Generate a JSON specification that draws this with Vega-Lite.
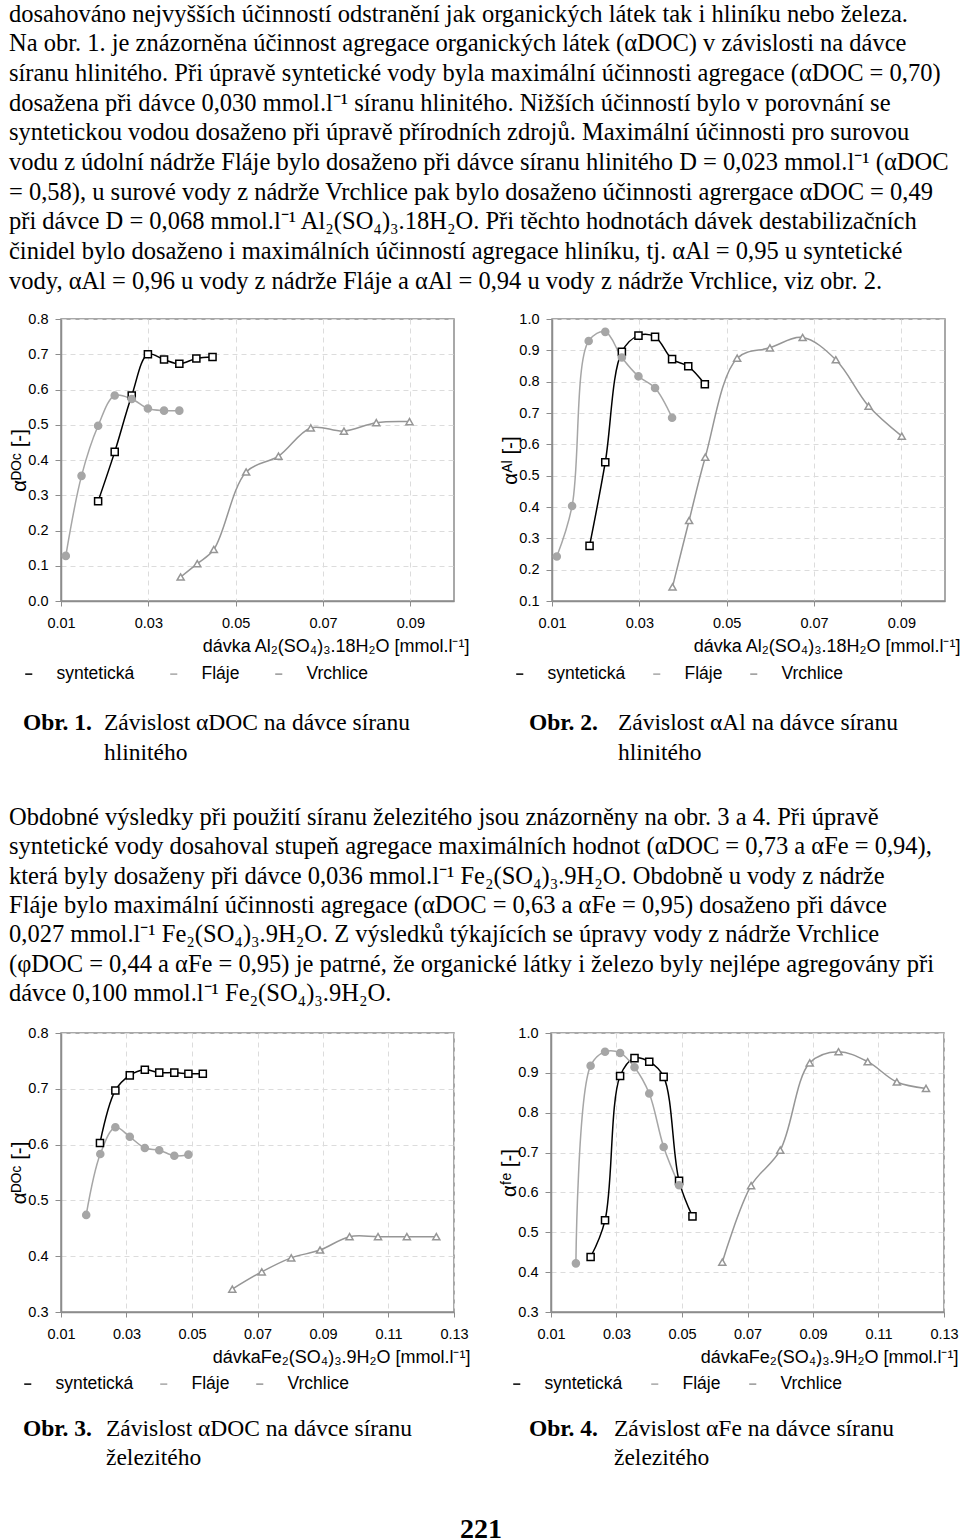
{
  "$schema": "https://vega.github.io/schema/vega-lite/v6.json",
  "padding": {"left": 8, "top": 0, "right": 0, "bottom": 0},
  "autosize": {"type": "pad"},
  "spacing": 0,
  "bounds": "full",
  "resolve": {"scale": {"stroke": "independent"}, "legend": {"stroke": "independent"}},
  "config": {
    "view": {"stroke": null},
    "font": "Liberation Sans",
    "axis": {"labelFont": "Liberation Sans", "labelFontSize": 14.5, "labelColor": "#000000", "titleFont": "Liberation Sans", "titleFontSize": 18, "titleFontWeight": "normal", "titleColor": "#000000", "domainColor": "#8c8c8c", "domainWidth": 1.5, "tickColor": "#8c8c8c", "tickWidth": 1, "gridColor": "#dcdcdc", "gridDash": [5, 4], "gridWidth": 1, "labelFlush": false, "labelOverlap": false},
    "axisX": {"tickSize": 5, "labelPadding": 10, "titlePadding": 8},
    "axisY": {"tickSize": 6, "labelPadding": 7, "minExtent": 28, "maxExtent": 28, "titlePadding": 4, "titleFontSize": 20.5},
    "legend": {"orient": "none", "direction": "horizontal", "title": null, "labelFont": "Liberation Sans", "labelFontSize": 17.5, "labelColor": "#000000", "labelOffset": 19, "symbolSize": 50, "symbolStrokeWidth": 1.5, "padding": 0}
  },
  "datasets": {
    "pts": [
      {"c": 1, "s": "syntetická", "x": 0.0185, "y": 0.283},
      {"c": 1, "s": "syntetická", "x": 0.0223, "y": 0.423},
      {"c": 1, "s": "syntetická", "x": 0.0262, "y": 0.583},
      {"c": 1, "s": "syntetická", "x": 0.0299, "y": 0.700},
      {"c": 1, "s": "syntetická", "x": 0.0336, "y": 0.685},
      {"c": 1, "s": "syntetická", "x": 0.0371, "y": 0.673},
      {"c": 1, "s": "syntetická", "x": 0.0410, "y": 0.688},
      {"c": 1, "s": "syntetická", "x": 0.0447, "y": 0.692},
      {"c": 1, "s": "Fláje", "x": 0.0111, "y": 0.128},
      {"c": 1, "s": "Fláje", "x": 0.0147, "y": 0.355},
      {"c": 1, "s": "Fláje", "x": 0.0185, "y": 0.497},
      {"c": 1, "s": "Fláje", "x": 0.0223, "y": 0.583},
      {"c": 1, "s": "Fláje", "x": 0.0262, "y": 0.573},
      {"c": 1, "s": "Fláje", "x": 0.0299, "y": 0.546},
      {"c": 1, "s": "Fláje", "x": 0.0336, "y": 0.540},
      {"c": 1, "s": "Fláje", "x": 0.0371, "y": 0.540},
      {"c": 1, "s": "Vrchlice", "x": 0.0374, "y": 0.068},
      {"c": 1, "s": "Vrchlice", "x": 0.0412, "y": 0.106},
      {"c": 1, "s": "Vrchlice", "x": 0.0450, "y": 0.146},
      {"c": 1, "s": "Vrchlice", "x": 0.0524, "y": 0.366},
      {"c": 1, "s": "Vrchlice", "x": 0.0598, "y": 0.411},
      {"c": 1, "s": "Vrchlice", "x": 0.0672, "y": 0.491},
      {"c": 1, "s": "Vrchlice", "x": 0.0748, "y": 0.482},
      {"c": 1, "s": "Vrchlice", "x": 0.0822, "y": 0.506},
      {"c": 1, "s": "Vrchlice", "x": 0.0898, "y": 0.509},
      {"c": 2, "s": "syntetická", "x": 0.0186, "y": 0.276},
      {"c": 2, "s": "syntetická", "x": 0.0222, "y": 0.543},
      {"c": 2, "s": "syntetická", "x": 0.0260, "y": 0.895},
      {"c": 2, "s": "syntetická", "x": 0.0298, "y": 0.947},
      {"c": 2, "s": "syntetická", "x": 0.0336, "y": 0.943},
      {"c": 2, "s": "syntetická", "x": 0.0375, "y": 0.872},
      {"c": 2, "s": "syntetická", "x": 0.0412, "y": 0.849},
      {"c": 2, "s": "syntetická", "x": 0.0450, "y": 0.792},
      {"c": 2, "s": "Fláje", "x": 0.0111, "y": 0.242},
      {"c": 2, "s": "Fláje", "x": 0.0146, "y": 0.403},
      {"c": 2, "s": "Fláje", "x": 0.0184, "y": 0.930},
      {"c": 2, "s": "Fláje", "x": 0.0222, "y": 0.959},
      {"c": 2, "s": "Fláje", "x": 0.0260, "y": 0.877},
      {"c": 2, "s": "Fláje", "x": 0.0298, "y": 0.817},
      {"c": 2, "s": "Fláje", "x": 0.0336, "y": 0.780},
      {"c": 2, "s": "Fláje", "x": 0.0375, "y": 0.685},
      {"c": 2, "s": "Vrchlice", "x": 0.0376, "y": 0.145},
      {"c": 2, "s": "Vrchlice", "x": 0.0414, "y": 0.357},
      {"c": 2, "s": "Vrchlice", "x": 0.0451, "y": 0.559},
      {"c": 2, "s": "Vrchlice", "x": 0.0524, "y": 0.875},
      {"c": 2, "s": "Vrchlice", "x": 0.0599, "y": 0.908},
      {"c": 2, "s": "Vrchlice", "x": 0.0674, "y": 0.941},
      {"c": 2, "s": "Vrchlice", "x": 0.0750, "y": 0.870},
      {"c": 2, "s": "Vrchlice", "x": 0.0825, "y": 0.722},
      {"c": 2, "s": "Vrchlice", "x": 0.0901, "y": 0.626},
      {"c": 3, "s": "syntetická", "x": 0.0219, "y": 0.603},
      {"c": 3, "s": "syntetická", "x": 0.0266, "y": 0.697},
      {"c": 3, "s": "syntetická", "x": 0.0310, "y": 0.724},
      {"c": 3, "s": "syntetická", "x": 0.0356, "y": 0.734},
      {"c": 3, "s": "syntetická", "x": 0.0400, "y": 0.729},
      {"c": 3, "s": "syntetická", "x": 0.0446, "y": 0.729},
      {"c": 3, "s": "syntetická", "x": 0.0489, "y": 0.727},
      {"c": 3, "s": "syntetická", "x": 0.0533, "y": 0.727},
      {"c": 3, "s": "Fláje", "x": 0.0177, "y": 0.474},
      {"c": 3, "s": "Fláje", "x": 0.0220, "y": 0.583},
      {"c": 3, "s": "Fláje", "x": 0.0266, "y": 0.631},
      {"c": 3, "s": "Fláje", "x": 0.0310, "y": 0.614},
      {"c": 3, "s": "Fláje", "x": 0.0356, "y": 0.594},
      {"c": 3, "s": "Fláje", "x": 0.0400, "y": 0.590},
      {"c": 3, "s": "Fláje", "x": 0.0446, "y": 0.580},
      {"c": 3, "s": "Fláje", "x": 0.0489, "y": 0.582},
      {"c": 3, "s": "Vrchlice", "x": 0.0623, "y": 0.341},
      {"c": 3, "s": "Vrchlice", "x": 0.0713, "y": 0.372},
      {"c": 3, "s": "Vrchlice", "x": 0.0803, "y": 0.397},
      {"c": 3, "s": "Vrchlice", "x": 0.0891, "y": 0.411},
      {"c": 3, "s": "Vrchlice", "x": 0.0981, "y": 0.435},
      {"c": 3, "s": "Vrchlice", "x": 0.1068, "y": 0.435},
      {"c": 3, "s": "Vrchlice", "x": 0.1156, "y": 0.435},
      {"c": 3, "s": "Vrchlice", "x": 0.1246, "y": 0.435},
      {"c": 4, "s": "syntetická", "x": 0.0221, "y": 0.438},
      {"c": 4, "s": "syntetická", "x": 0.0265, "y": 0.530},
      {"c": 4, "s": "syntetická", "x": 0.0311, "y": 0.892},
      {"c": 4, "s": "syntetická", "x": 0.0355, "y": 0.937},
      {"c": 4, "s": "syntetická", "x": 0.0400, "y": 0.928},
      {"c": 4, "s": "syntetická", "x": 0.0444, "y": 0.890},
      {"c": 4, "s": "syntetická", "x": 0.0491, "y": 0.629},
      {"c": 4, "s": "syntetická", "x": 0.0532, "y": 0.540},
      {"c": 4, "s": "Fláje", "x": 0.0176, "y": 0.422},
      {"c": 4, "s": "Fláje", "x": 0.0221, "y": 0.918},
      {"c": 4, "s": "Fláje", "x": 0.0265, "y": 0.953},
      {"c": 4, "s": "Fláje", "x": 0.0311, "y": 0.950},
      {"c": 4, "s": "Fláje", "x": 0.0355, "y": 0.914},
      {"c": 4, "s": "Fláje", "x": 0.0400, "y": 0.848},
      {"c": 4, "s": "Fláje", "x": 0.0444, "y": 0.714},
      {"c": 4, "s": "Fláje", "x": 0.0491, "y": 0.618},
      {"c": 4, "s": "Vrchlice", "x": 0.0623, "y": 0.425},
      {"c": 4, "s": "Vrchlice", "x": 0.0711, "y": 0.617},
      {"c": 4, "s": "Vrchlice", "x": 0.0800, "y": 0.706},
      {"c": 4, "s": "Vrchlice", "x": 0.0890, "y": 0.925},
      {"c": 4, "s": "Vrchlice", "x": 0.0978, "y": 0.953},
      {"c": 4, "s": "Vrchlice", "x": 0.1067, "y": 0.928},
      {"c": 4, "s": "Vrchlice", "x": 0.1156, "y": 0.877},
      {"c": 4, "s": "Vrchlice", "x": 0.1245, "y": 0.861}
    ]
  },
  "vconcat": [
    {
      "width": 900, "height": 310,
      "data": {"values": [
        {"line": 1, "t": "dosahováno nejvyšších účinností odstranění jak organických látek tak i hliníku nebo železa."},
        {"line": 2, "t": "Na obr. 1. je znázorněna účinnost agregace organických látek (αDOC) v závislosti na dávce"},
        {"line": 3, "t": "síranu hlinitého. Při úpravě syntetické vody byla maximální účinnosti agregace (αDOC = 0,70)"},
        {"line": 4, "t": "dosažena při dávce 0,030 mmol.l⁻¹ síranu hlinitého. Nižších účinností bylo v porovnání se"},
        {"line": 5, "t": "syntetickou vodou dosaženo při úpravě přírodních zdrojů. Maximální účinnosti pro surovou"},
        {"line": 6, "t": "vodu z údolní nádrže Fláje bylo dosaženo při dávce síranu hlinitého D = 0,023 mmol.l⁻¹ (αDOC"},
        {"line": 7, "t": "= 0,58), u surové vody z nádrže Vrchlice pak bylo dosaženo účinnosti agrergace αDOC = 0,49"},
        {"line": 8, "t": "při dávce D = 0,068 mmol.l⁻¹ Al₂(SO₄)₃.18H₂O. Při těchto hodnotách dávek destabilizačních"},
        {"line": 9, "t": "činidel bylo dosaženo i maximálních účinností agregace hliníku, tj. αAl = 0,95 u syntetické"},
        {"line": 10, "t": "vody, αAl = 0,96 u vody z nádrže Fláje a αAl = 0,94 u vody z nádrže Vrchlice, viz obr. 2."}
      ]},
      "mark": {"type": "text", "align": "left", "baseline": "middle", "font": "Liberation Serif", "fontSize": 24.5, "color": "#000000"},
      "encoding": {
        "x": {"datum": 0, "type": "quantitative", "scale": {"domain": [0, 1], "range": [-52, 848]}, "axis": null},
        "y": {"field": "line", "type": "ordinal", "scale": {"type": "point", "padding": 0, "range": [14.5, 281.5]}, "axis": null},
        "text": {"field": "t"}
      }
    },
    {
      "resolve": {"scale": {"stroke": "independent"}, "legend": {"stroke": "independent"}},
      "hconcat": [
        {
          "width": 393, "height": 282,
          "view": {"stroke": "#8c8c8c", "strokeWidth": 1.5},
          "data": {"name": "pts"},
          "transform": [{"filter": "datum.c == 1"}],
          "encoding": {
            "x": {"field": "x", "type": "quantitative", "scale": {"domain": [0.01, 0.1], "nice": false, "zero": false}, "axis": {"values": [0.01, 0.03, 0.05, 0.07, 0.09], "format": ".2f", "title": "dávka Al₂(SO₄)₃.18H₂O [mmol.l⁻¹]", "titleX": 408, "titleAlign": "right", "titleAnchor": "end"}},
            "y": {"field": "y", "type": "quantitative", "scale": {"domain": [0, 0.8], "nice": false, "zero": false}, "axis": {"values": [0, 0.1, 0.2, 0.3, 0.4, 0.5, 0.6, 0.7, 0.8], "format": ".1f", "title": "αᴰᴼᶜ [-]"}}
          },
          "layer": [
            {"mark": {"type": "line", "interpolate": "catmull-rom", "strokeWidth": 1.5},
             "encoding": {"stroke": {"field": "s", "type": "nominal", "scale": {"domain": ["syntetická", "Fláje", "Vrchlice"], "range": ["#000000", "#a6a6a6", "#969696"]},
               "legend": {"legendX": -41, "legendY": 346, "columnPadding": 30}}}},
            {"mark": {"type": "point", "size": 50, "strokeWidth": 1.5, "opacity": 1},
             "encoding": {
               "stroke": {"field": "s", "type": "nominal", "legend": null},
               "shape": {"field": "s", "type": "nominal", "scale": {"domain": ["syntetická", "Fláje", "Vrchlice"], "range": ["square", "circle", "triangle-up"]}, "legend": null},
               "fill": {"field": "s", "type": "nominal", "scale": {"domain": ["syntetická", "Fláje", "Vrchlice"], "range": ["#ffffff", "#a6a6a6", "#ffffff"]}, "legend": null}}}
          ]
        },
        {
          "width": 393, "height": 282,
          "view": {"stroke": "#8c8c8c", "strokeWidth": 1.5},
          "data": {"name": "pts"},
          "transform": [{"filter": "datum.c == 2"}],
          "encoding": {
            "x": {"field": "x", "type": "quantitative", "scale": {"domain": [0.01, 0.1], "nice": false, "zero": false}, "axis": {"values": [0.01, 0.03, 0.05, 0.07, 0.09], "format": ".2f", "title": "dávka Al₂(SO₄)₃.18H₂O [mmol.l⁻¹]", "titleX": 408, "titleAlign": "right", "titleAnchor": "end"}},
            "y": {"field": "y", "type": "quantitative", "scale": {"domain": [0.1, 1.0], "nice": false, "zero": false}, "axis": {"values": [0.1, 0.2, 0.3, 0.4, 0.5, 0.6, 0.7, 0.8, 0.9, 1.0], "format": ".1f", "title": "αᴬˡ [-]"}}
          },
          "layer": [
            {"mark": {"type": "line", "interpolate": "catmull-rom", "strokeWidth": 1.5},
             "encoding": {"stroke": {"field": "s", "type": "nominal", "scale": {"domain": ["syntetická", "Fláje", "Vrchlice"], "range": ["#000000", "#a6a6a6", "#969696"]},
               "legend": {"legendX": -41, "legendY": 346, "columnPadding": 22}}}},
            {"mark": {"type": "point", "size": 50, "strokeWidth": 1.5, "opacity": 1},
             "encoding": {
               "stroke": {"field": "s", "type": "nominal", "legend": null},
               "shape": {"field": "s", "type": "nominal", "scale": {"domain": ["syntetická", "Fláje", "Vrchlice"], "range": ["square", "circle", "triangle-up"]}, "legend": null},
               "fill": {"field": "s", "type": "nominal", "scale": {"domain": ["syntetická", "Fláje", "Vrchlice"], "range": ["#ffffff", "#a6a6a6", "#ffffff"]}, "legend": null}}}
          ]
        }
      ],
      "spacing": 29
    },
    {
      "hconcat": [
        {
          "width": 420, "height": 96.75,
          "data": {"values": [
            {"p": "n", "l": 1, "t": "Obr. 1."},
            {"p": "c", "l": 1, "t": "Závislost αDOC na dávce síranu"},
            {"p": "c", "l": 2, "t": "hlinitého"}
          ]},
          "encoding": {
            "x": {"field": "p", "type": "nominal", "scale": {"type": "point", "padding": 0, "domain": ["n", "c"], "range": [-38, 43]}, "axis": null},
            "y": {"field": "l", "type": "ordinal", "scale": {"type": "point", "padding": 0, "domain": [1, 2], "range": [38.75, 68.75]}, "axis": null},
            "text": {"field": "t"}
          },
          "layer": [
            {"transform": [{"filter": "datum.p == 'n'"}], "mark": {"type": "text", "align": "left", "baseline": "middle", "font": "Liberation Serif", "fontSize": 23.5, "fontWeight": "bold", "color": "#000000"}},
            {"transform": [{"filter": "datum.p == 'c'"}], "mark": {"type": "text", "align": "left", "baseline": "middle", "font": "Liberation Serif", "fontSize": 23.5, "color": "#000000"}}
          ]
        },
        {
          "width": 470, "height": 96.75,
          "data": {"values": [
            {"p": "n", "l": 1, "t": "Obr. 2."},
            {"p": "c", "l": 1, "t": "Závislost αAl na dávce síranu"},
            {"p": "c", "l": 2, "t": "hlinitého"}
          ]},
          "encoding": {
            "x": {"field": "p", "type": "nominal", "scale": {"type": "point", "padding": 0, "domain": ["n", "c"], "range": [48, 137]}, "axis": null},
            "y": {"field": "l", "type": "ordinal", "scale": {"type": "point", "padding": 0, "domain": [1, 2], "range": [38.75, 68.75]}, "axis": null},
            "text": {"field": "t"}
          },
          "layer": [
            {"transform": [{"filter": "datum.p == 'n'"}], "mark": {"type": "text", "align": "left", "baseline": "middle", "font": "Liberation Serif", "fontSize": 23.5, "fontWeight": "bold", "color": "#000000"}},
            {"transform": [{"filter": "datum.p == 'c'"}], "mark": {"type": "text", "align": "left", "baseline": "middle", "font": "Liberation Serif", "fontSize": 23.5, "color": "#000000"}}
          ]
        }
      ],
      "spacing": 0
    },
    {
      "width": 900, "height": 243,
      "data": {"values": [
        {"line": 1, "t": "Obdobné výsledky při použití síranu železitého jsou znázorněny na obr. 3 a 4. Při úpravě"},
        {"line": 2, "t": "syntetické vody dosahoval stupeň agregace maximálních hodnot (αDOC = 0,73 a αFe = 0,94),"},
        {"line": 3, "t": "která byly dosaženy při dávce 0,036 mmol.l⁻¹ Fe₂(SO₄)₃.9H₂O. Obdobně u vody z nádrže"},
        {"line": 4, "t": "Fláje bylo maximální účinnosti agregace (αDOC = 0,63 a  αFe = 0,95) dosaženo při  dávce"},
        {"line": 5, "t": "0,027 mmol.l⁻¹ Fe₂(SO₄)₃.9H₂O. Z výsledků týkajících se úpravy vody z nádrže Vrchlice"},
        {"line": 6, "t": "(φDOC = 0,44 a αFe = 0,95) je patrné, že organické látky i železo byly nejlépe agregovány při"},
        {"line": 7, "t": "dávce 0,100 mmol.l⁻¹ Fe₂(SO₄)₃.9H₂O."}
      ]},
      "mark": {"type": "text", "align": "left", "baseline": "middle", "font": "Liberation Serif", "fontSize": 24.5, "color": "#000000"},
      "encoding": {
        "x": {"datum": 0, "type": "quantitative", "scale": {"domain": [0, 1], "range": [-52, 848]}, "axis": null},
        "y": {"field": "line", "type": "ordinal", "scale": {"type": "point", "padding": 0, "range": [37, 213]}, "axis": null},
        "text": {"field": "t"}
      }
    },
    {
      "resolve": {"scale": {"stroke": "independent"}, "legend": {"stroke": "independent"}},
      "hconcat": [
        {
          "width": 393, "height": 279,
          "view": {"stroke": "#8c8c8c", "strokeWidth": 1.5},
          "data": {"name": "pts"},
          "transform": [{"filter": "datum.c == 3"}],
          "encoding": {
            "x": {"field": "x", "type": "quantitative", "scale": {"domain": [0.01, 0.13], "nice": false, "zero": false}, "axis": {"values": [0.01, 0.03, 0.05, 0.07, 0.09, 0.11, 0.13], "format": ".2f", "title": "dávkaFe₂(SO₄)₃.9H₂O [mmol.l⁻¹]", "titleX": 409, "titleAlign": "right", "titleAnchor": "end"}},
            "y": {"field": "y", "type": "quantitative", "scale": {"domain": [0.3, 0.8], "nice": false, "zero": false}, "axis": {"values": [0.3, 0.4, 0.5, 0.6, 0.7, 0.8], "format": ".1f", "title": "αᴰᴼᶜ [-]"}}
          },
          "layer": [
            {"mark": {"type": "line", "interpolate": "catmull-rom", "strokeWidth": 1.5},
             "encoding": {"stroke": {"field": "s", "type": "nominal", "scale": {"domain": ["syntetická", "Fláje", "Vrchlice"], "range": ["#000000", "#a6a6a6", "#969696"]},
               "legend": {"legendX": -42, "legendY": 342, "columnPadding": 21}}}},
            {"mark": {"type": "point", "size": 50, "strokeWidth": 1.5, "opacity": 1},
             "encoding": {
               "stroke": {"field": "s", "type": "nominal", "legend": null},
               "shape": {"field": "s", "type": "nominal", "scale": {"domain": ["syntetická", "Fláje", "Vrchlice"], "range": ["square", "circle", "triangle-up"]}, "legend": null},
               "fill": {"field": "s", "type": "nominal", "scale": {"domain": ["syntetická", "Fláje", "Vrchlice"], "range": ["#ffffff", "#a6a6a6", "#ffffff"]}, "legend": null}}}
          ]
        },
        {
          "width": 393, "height": 279,
          "view": {"stroke": "#8c8c8c", "strokeWidth": 1.5},
          "data": {"name": "pts"},
          "transform": [{"filter": "datum.c == 4"}],
          "encoding": {
            "x": {"field": "x", "type": "quantitative", "scale": {"domain": [0.01, 0.13], "nice": false, "zero": false}, "axis": {"values": [0.01, 0.03, 0.05, 0.07, 0.09, 0.11, 0.13], "format": ".2f", "title": "dávkaFe₂(SO₄)₃.9H₂O [mmol.l⁻¹]", "titleX": 407, "titleAlign": "right", "titleAnchor": "end"}},
            "y": {"field": "y", "type": "quantitative", "scale": {"domain": [0.3, 1.0], "nice": false, "zero": false}, "axis": {"values": [0.3, 0.4, 0.5, 0.6, 0.7, 0.8, 0.9, 1.0], "format": ".1f", "title": "αᶠᵉ [-]"}}
          },
          "layer": [
            {"mark": {"type": "line", "interpolate": "catmull-rom", "strokeWidth": 1.5},
             "encoding": {"stroke": {"field": "s", "type": "nominal", "scale": {"domain": ["syntetická", "Fláje", "Vrchlice"], "range": ["#000000", "#a6a6a6", "#969696"]},
               "legend": {"legendX": -43, "legendY": 342, "columnPadding": 23}}}},
            {"mark": {"type": "point", "size": 50, "strokeWidth": 1.5, "opacity": 1},
             "encoding": {
               "stroke": {"field": "s", "type": "nominal", "legend": null},
               "shape": {"field": "s", "type": "nominal", "scale": {"domain": ["syntetická", "Fláje", "Vrchlice"], "range": ["square", "circle", "triangle-up"]}, "legend": null},
               "fill": {"field": "s", "type": "nominal", "scale": {"domain": ["syntetická", "Fláje", "Vrchlice"], "range": ["#ffffff", "#a6a6a6", "#ffffff"]}, "legend": null}}}
          ]
        }
      ],
      "spacing": 27
    },
    {
      "hconcat": [
        {
          "width": 420, "height": 106.25,
          "data": {"values": [
            {"p": "n", "l": 1, "t": "Obr. 3."},
            {"p": "c", "l": 1, "t": "Závislost αDOC na dávce síranu"},
            {"p": "c", "l": 2, "t": "železitého"}
          ]},
          "encoding": {
            "x": {"field": "p", "type": "nominal", "scale": {"type": "point", "padding": 0, "domain": ["n", "c"], "range": [-38, 45]}, "axis": null},
            "y": {"field": "l", "type": "ordinal", "scale": {"type": "point", "padding": 0, "domain": [1, 2], "range": [34.75, 63.75]}, "axis": null},
            "text": {"field": "t"}
          },
          "layer": [
            {"transform": [{"filter": "datum.p == 'n'"}], "mark": {"type": "text", "align": "left", "baseline": "middle", "font": "Liberation Serif", "fontSize": 23.5, "fontWeight": "bold", "color": "#000000"}},
            {"transform": [{"filter": "datum.p == 'c'"}], "mark": {"type": "text", "align": "left", "baseline": "middle", "font": "Liberation Serif", "fontSize": 23.5, "color": "#000000"}}
          ]
        },
        {
          "width": 470, "height": 106.25,
          "data": {"values": [
            {"p": "n", "l": 1, "t": "Obr. 4."},
            {"p": "c", "l": 1, "t": "Závislost αFe na dávce síranu"},
            {"p": "c", "l": 2, "t": "železitého"}
          ]},
          "encoding": {
            "x": {"field": "p", "type": "nominal", "scale": {"type": "point", "padding": 0, "domain": ["n", "c"], "range": [48, 133]}, "axis": null},
            "y": {"field": "l", "type": "ordinal", "scale": {"type": "point", "padding": 0, "domain": [1, 2], "range": [34.75, 63.75]}, "axis": null},
            "text": {"field": "t"}
          },
          "layer": [
            {"transform": [{"filter": "datum.p == 'n'"}], "mark": {"type": "text", "align": "left", "baseline": "middle", "font": "Liberation Serif", "fontSize": 23.5, "fontWeight": "bold", "color": "#000000"}},
            {"transform": [{"filter": "datum.p == 'c'"}], "mark": {"type": "text", "align": "left", "baseline": "middle", "font": "Liberation Serif", "fontSize": 23.5, "color": "#000000"}}
          ]
        }
      ],
      "spacing": 0
    },
    {
      "width": 880, "height": 57,
      "data": {"values": [{"t": "221"}]},
      "mark": {"type": "text", "align": "center", "baseline": "middle", "font": "Liberation Serif", "fontSize": 28, "fontWeight": "bold", "color": "#000000"},
      "encoding": {
        "x": {"datum": 0.5, "type": "quantitative", "scale": {"domain": [0, 1], "range": [-60, 900]}, "axis": null},
        "text": {"field": "t"}
      }
    }
  ]
}
